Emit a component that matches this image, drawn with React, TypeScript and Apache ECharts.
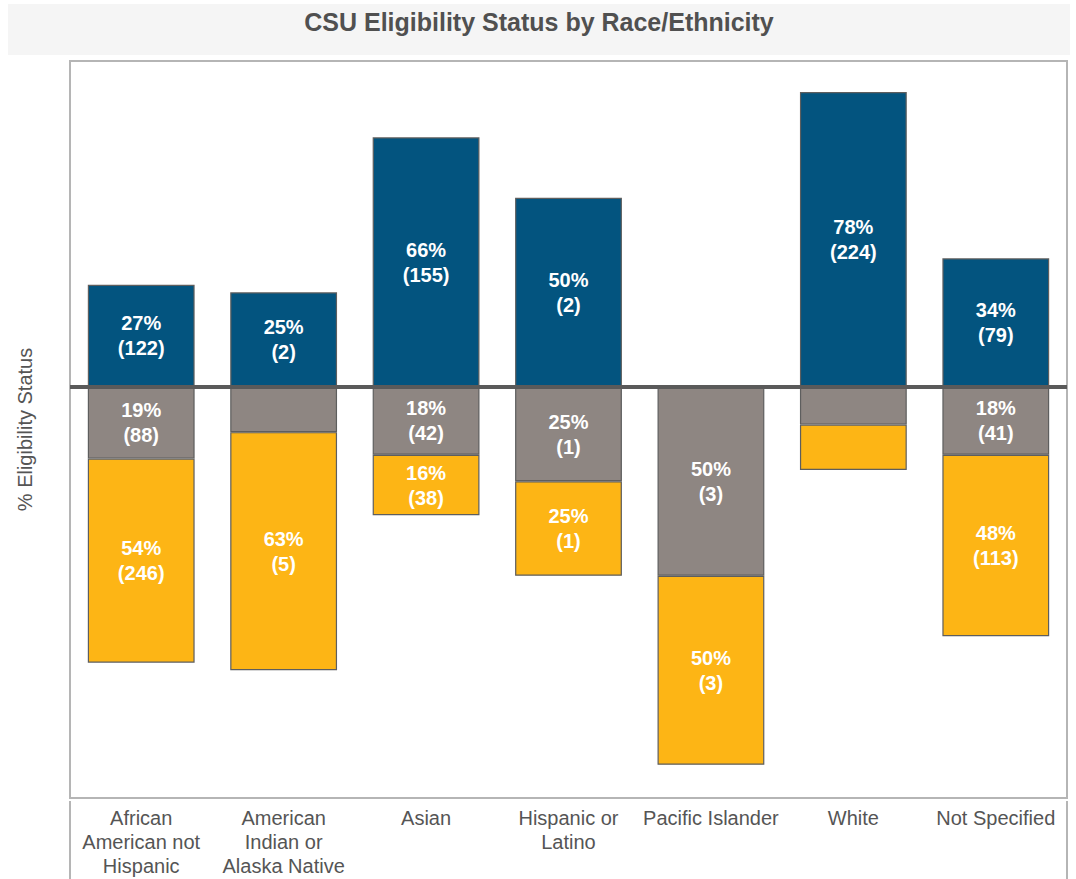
import React, { useEffect, useRef } from "react";
import * as echarts from "echarts";

const categories = [
  "African American not Hispanic",
  "American Indian or Alaska Native",
  "Asian",
  "Hispanic or Latino",
  "Pacific Islander",
  "White",
  "Not Specified",
];
const tickLabels = [
  "African\nAmerican not\nHispanic",
  "American\nIndian or\nAlaska Native",
  "Asian",
  "Hispanic or\nLatino",
  "Pacific Islander",
  "White",
  "Not Specified",
];
// percentages
const eligiblePct = [27, 25, 66, 50, 0, 78, 34];
const grayPct = [19, 12, 18, 25, 50, 10, 18];
const yellowPct = [54, 63, 16, 25, 50, 12, 48];
// counts (null = not labelled in the picture)
const eligibleN: (number | null)[] = [122, 2, 155, 2, null, 224, 79];
const grayN: (number | null)[] = [88, null, 42, 1, 3, null, 41];
const yellowN: (number | null)[] = [246, 5, 38, 1, 3, null, 113];

const FONT = "'Liberation Sans', Arial, sans-serif";

export default function App() {
  const ref = useRef<HTMLDivElement>(null);
  useEffect(() => {
    document.body.style.margin = "0";
    if (!ref.current) return;
    const chart = echarts.init(ref.current, undefined, { renderer: "svg" });
    const mkLabel = (pcts: number[], counts: (number | null)[]) => ({
      show: true,
      position: "inside",
      color: "#ffffff",
      fontWeight: "bold",
      fontSize: 20,
      lineHeight: 25,
      fontFamily: FONT,
      formatter: (p: any) => {
        const i = p.dataIndex;
        const c = counts[i];
        if (c === null || c === undefined) return "";
        return `${Math.round(pcts[i])}%\n(${c})`;
      },
    });
    const itemStyleFor = (color: string) => ({
      color,
      borderColor: "#5e5e5e",
      borderWidth: 1.2,
    });
    chart.setOption({
      animation: false,
      textStyle: { fontFamily: FONT },
      graphic: [
        { type: "rect", shape: { x: 8, y: 4, width: 1062, height: 51 }, style: { fill: "#f5f5f5" }, silent: true },
        {
          type: "text",
          x: 539,
          y: 22,
          style: {
            text: "CSU Eligibility Status by Race/Ethnicity",
            fill: "#505050",
            font: `bold 25px ${FONT}`,
            textAlign: "center",
            textVerticalAlign: "middle",
          },
        },
        { type: "line", shape: { x1: 70, y1: 801, x2: 70, y2: 879 }, style: { stroke: "#b5b5b5", lineWidth: 2 } },
        { type: "line", shape: { x1: 1067, y1: 801, x2: 1067, y2: 879 }, style: { stroke: "#b5b5b5", lineWidth: 2 } },
      ],
      grid: {
        left: 70,
        right: 9,
        top: 61,
        bottom: 81,
        show: true,
        borderColor: "#b5b5b5",
        borderWidth: 2,
        backgroundColor: "#ffffff",
      },
      xAxis: {
        type: "category",
        data: categories,
        axisLine: { show: false },
        axisTick: { show: false },
        axisLabel: {
          interval: 0,
          margin: 8,
          color: "#555555",
          fontSize: 20,
          lineHeight: 24,
          fontFamily: FONT,
          formatter: (_v: string, i: number) => tickLabels[i],
        },
      },
      yAxis: {
        type: "value",
        min: -108.8,
        max: 86.2,
        name: "% Eligibility Status",
        nameLocation: "middle",
        nameGap: 35,
        nameTextStyle: { color: "#555555", fontSize: 20, fontFamily: FONT },
        axisLine: { show: false },
        axisTick: { show: false },
        axisLabel: { show: false },
        splitLine: { show: false },
      },
      series: [
        {
          name: "Eligible",
          type: "bar",
          stack: "s",
          barWidth: "75%",
          data: eligiblePct.map((v) => (v === 0 ? "-" : v)),
          itemStyle: itemStyleFor("#03547f"),
          label: mkLabel(eligiblePct, eligibleN),
        },
        {
          name: "Gray",
          type: "bar",
          stack: "s",
          data: grayPct.map((v) => -v),
          itemStyle: itemStyleFor("#8e8682"),
          label: mkLabel(grayPct, grayN),
        },
        {
          name: "Yellow",
          type: "bar",
          stack: "s",
          data: yellowPct.map((v) => -v),
          itemStyle: itemStyleFor("#fdb515"),
          label: mkLabel(yellowPct, yellowN),
          markLine: {
            silent: true,
            symbol: ["none", "none"],
            label: { show: false },
            lineStyle: { color: "#5a5a5a", width: 4, type: "solid" },
            data: [{ yAxis: 0 }],
          },
        },
      ],
    });
    return () => chart.dispose();
  }, []);
  return <div ref={ref} style={{ width: 1076, height: 879 }} />;
}
